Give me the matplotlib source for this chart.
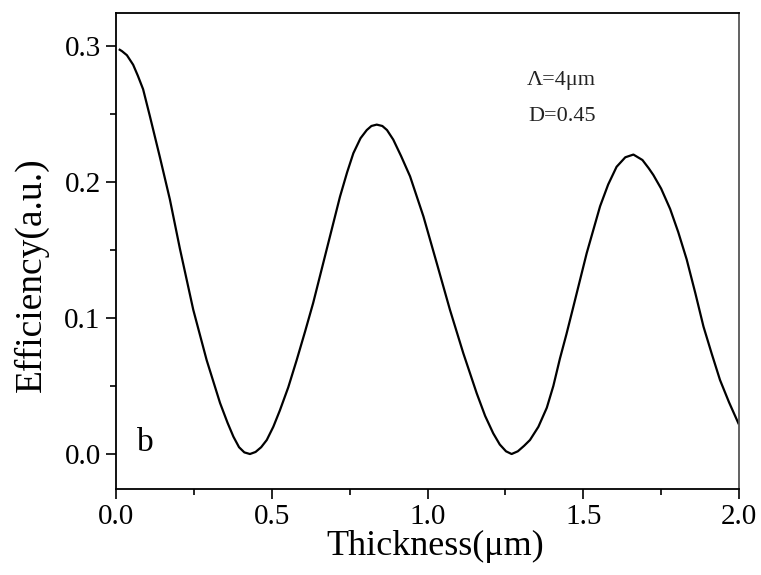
import numpy as np
import matplotlib
matplotlib.use('Agg')
import matplotlib.pyplot as plt
from matplotlib.ticker import MultipleLocator

plt.rcParams['font.family'] = ['Liberation Serif', 'DejaVu Serif']

# thickness (um) and efficiency
thickness = [0.012, 0.019, 0.035, 0.055, 0.07, 0.087, 0.109, 0.141, 0.173, 0.205, 0.248,
             0.291, 0.334, 0.358, 0.377, 0.395, 0.412, 0.43, 0.448, 0.466, 0.484, 0.505,
             0.526, 0.553, 0.58, 0.607, 0.633, 0.676, 0.719, 0.742, 0.762, 0.785, 0.805,
             0.82, 0.837, 0.855, 0.87, 0.89, 0.915, 0.944, 0.987, 1.03, 1.072, 1.115, 1.158,
             1.185, 1.211, 1.232, 1.252, 1.27, 1.29, 1.31, 1.329, 1.356, 1.383, 1.404, 1.425,
             1.446, 1.468, 1.511, 1.554, 1.58, 1.607, 1.635, 1.661, 1.69, 1.71, 1.725, 1.75,
             1.779, 1.805, 1.832, 1.86, 1.886, 1.912, 1.939, 1.968, 1.998]
efficiency = [0.297, 0.296, 0.293, 0.286, 0.278, 0.268, 0.248, 0.218, 0.187, 0.151, 0.106,
              0.069, 0.0375, 0.023, 0.0127, 0.005, 0.0012, 0.0, 0.0015, 0.005, 0.0103, 0.02,
              0.032, 0.049, 0.069, 0.09, 0.111, 0.15, 0.189, 0.207, 0.221, 0.232, 0.238,
              0.241, 0.242, 0.241, 0.238, 0.231, 0.219, 0.204, 0.1745, 0.14, 0.106, 0.074,
              0.0446, 0.028, 0.0152, 0.007, 0.002, 0.0, 0.002, 0.006, 0.0103, 0.02, 0.034,
              0.05, 0.07, 0.088, 0.108, 0.1475, 0.182, 0.198, 0.211, 0.218, 0.22, 0.216, 0.21,
              0.205, 0.195, 0.18, 0.163, 0.143, 0.118, 0.0936, 0.074, 0.0544, 0.038, 0.0226]

fig = plt.figure(figsize=(7.61, 5.75), dpi=100)
ax = fig.add_axes([116/761, 1-489/575, (739-116)/761, (489-13)/575])
ax.plot(thickness, efficiency, color='black', lw=1.6)

ax.set_xlim(0, 2.0)
ax.set_ylim(-0.0257, 0.324)
ax.xaxis.set_major_locator(MultipleLocator(0.5))
ax.xaxis.set_minor_locator(MultipleLocator(0.25))
ax.yaxis.set_major_locator(MultipleLocator(0.1))
ax.yaxis.set_minor_locator(MultipleLocator(0.05))
ax.tick_params(which='both', direction='out', top=False, right=False, labelsize=21, width=1.2)
ax.tick_params(which='major', length=7, pad=4)
ax.tick_params(which='minor', length=4)
for s in ax.spines.values():
    s.set_linewidth(1.3)
ax.spines['right'].set_color('#555555')

ax.set_xlabel('Thickness(μm)', fontsize=26, labelpad=0)
ax.xaxis.label.set_x(0.512)
ax.set_ylabel('Efficiency(a.u.)', fontsize=27)
ax.yaxis.set_label_coords(-0.108, 0.45)

ax.text(1.32, 0.271, 'Λ=4μm', fontsize=16, color='#222222')
ax.text(1.325, 0.245, 'D=0.45', fontsize=16, color='#222222')
ax.text(0.067, 0.002, 'b', fontsize=24)

plt.savefig('out.png', dpi=100)
